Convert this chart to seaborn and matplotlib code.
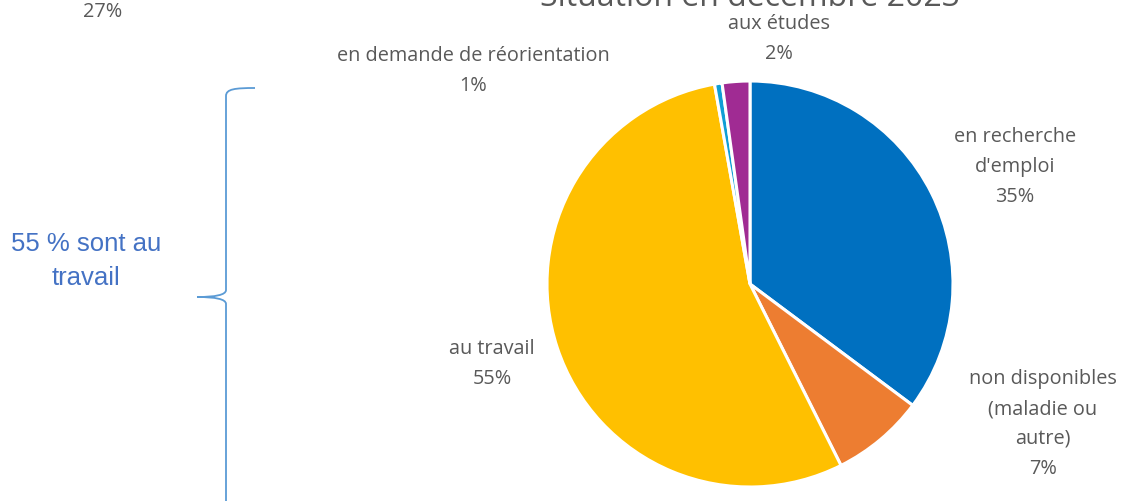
import matplotlib
matplotlib.use("Agg")
import matplotlib.pyplot as plt
import seaborn as sns
from matplotlib.path import Path
from matplotlib.patches import PathPatch

sns.set_theme(style="white")
plt.rcParams['font.family'] = ['Open Sans', 'DejaVu Sans']

# Data
categories = ["en recherche\nd'emploi", "non disponibles\n(maladie ou\nautre)", "au travail",
              "en demande de réorientation", "aux études"]
values = [35.2, 7.4, 54.6, 0.6, 2.2]
colors = ["#0070C0", "#ED7D31", "#FFC000", "#0F9ED5", "#A02B93"]
title = "Situation en décembre 2023"
note = "55 % sont au\ntravail"
stray_label = "27%"

W, H = 1121, 501
fig = plt.figure(figsize=(W / 100, H / 100), dpi=100)

def fx(x):
    return x / W

def fy(y):
    return 1 - y / H

cx, cy, r = 750, 284, 203
ax = fig.add_axes([fx(cx - r), fy(cy + r), 2 * r / W, 2 * r / H])
ax.pie(values, colors=colors, startangle=90, counterclock=False,
       wedgeprops=dict(edgecolor="white", linewidth=2.2))
ax.set_xlim(-1, 1)
ax.set_ylim(-1, 1)
ax.set_aspect("equal")
ax.axis("off")

txt_color = "#595959"
label_pos = [(1015, 167), (1043, 424), (492, 364), (473, 71), (779, 39)]
for cat, v, (x, y) in zip(categories, values, label_pos):
    fig.text(fx(x), fy(y), f"{cat}\n{round(v):.0f}%", ha="center", va="center",
             fontsize=14.3, color=txt_color, linespacing=1.65)

fig.text(fx(750), fy(6), title, ha="center", va="baseline", fontsize=23, color=txt_color)
fig.text(fx(103), fy(17), stray_label, ha="center", va="baseline", fontsize=14.3, color=txt_color)

fig.text(fx(86), fy(261), note, ha="center", va="center", fontsize=18.5,
         color="#4472C4", linespacing=1.5, family=['Liberation Sans', 'DejaVu Sans'])

# Brace
verts = [
    (255, 88), (235, 88), (226, 89), (226, 96),
    (226, 290),
    (226, 295), (215, 297), (197, 297),
    (215, 297), (226, 299), (226, 304),
    (226, 505),
]
codes = [Path.MOVETO, Path.CURVE4, Path.CURVE4, Path.CURVE4,
         Path.LINETO,
         Path.CURVE4, Path.CURVE4, Path.CURVE4,
         Path.CURVE4, Path.CURVE4, Path.CURVE4,
         Path.LINETO]
verts_fig = [(fx(x), fy(y)) for x, y in verts]
patch = PathPatch(Path(verts_fig, codes), transform=fig.transFigure, fill=False,
                  edgecolor="#5B9BD5", linewidth=1.3, clip_on=False)
fig.add_artist(patch)

fig.savefig("out.png", dpi=100)
